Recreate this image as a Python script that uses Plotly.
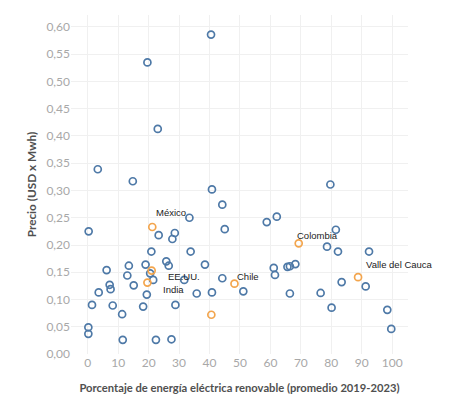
import plotly.graph_objects as go

# Blue series (other regions)
blue_x = [40.5, 19.6, 23.0, 3.3, 14.8, 40.8, 79.7, 44.2, 33.4, 0.3, 23.3, 28.6, 27.8, 45.0,
          20.9, 33.8, 25.8, 26.6, 19.0, 38.5, 13.5, 6.2, 20.5, 13.0, 21.5, 31.7, 7.2, 7.5,
          15.1, 44.2, 3.6, 19.4, 35.8, 40.8, 1.4, 8.2, 18.2, 28.8, 11.3, 0.2, 0.2, 11.5,
          22.4, 27.5, 58.8, 62.1, 81.5, 78.6, 82.2, 92.4, 51.1, 61.1, 61.5, 65.6, 66.4,
          68.2, 66.4, 76.5, 80.1, 83.4, 91.3, 98.4, 99.7]
blue_y = [0.586, 0.535, 0.413, 0.339, 0.317, 0.302, 0.311, 0.274, 0.250, 0.225, 0.218, 0.222,
          0.211, 0.229, 0.188, 0.188, 0.170, 0.162, 0.164, 0.164, 0.162, 0.154, 0.148, 0.144,
          0.136, 0.136, 0.127, 0.119, 0.126, 0.139, 0.113, 0.109, 0.111, 0.113, 0.090, 0.089,
          0.087, 0.090, 0.073, 0.049, 0.037, 0.026, 0.026, 0.027, 0.242, 0.252, 0.228, 0.197,
          0.188, 0.188, 0.115, 0.158, 0.145, 0.160, 0.161, 0.165, 0.111, 0.112, 0.085, 0.132,
          0.124, 0.081, 0.046]

# Highlighted series
orange_names = ["México", "EE.UU.", "India", "", "Chile", "Colombia", "Valle del Cauca"]
orange_x = [21.2, 21.0, 19.6, 40.6, 48.2, 69.3, 88.8]
orange_y = [0.233, 0.153, 0.131, 0.072, 0.129, 0.203, 0.141]

# Label positions (data coordinates)
label_names = ["México", "EE.UU.", "India", "Chile", "Colombia", "Valle del Cauca"]
label_x = [21.9, 25.6, 24.2, 48.3, 68.0, 90.7]
label_y = [0.259, 0.143, 0.118, 0.143, 0.217, 0.164]

x_ticks = list(range(0, 101, 10))
y_ticks = [round(i * 0.05, 2) for i in range(13)]

fig = go.Figure()
fig.add_trace(go.Scatter(
    x=blue_x, y=blue_y, mode="markers",
    marker=dict(symbol="circle-open", size=7, color="#4e79a7", line=dict(width=1.7)),
    cliponaxis=False, showlegend=False, hoverinfo="x+y"))
fig.add_trace(go.Scatter(
    x=orange_x, y=orange_y, mode="markers", text=orange_names,
    marker=dict(symbol="circle-open", size=7, color="#f3a54d", line=dict(width=1.7)),
    cliponaxis=False, showlegend=False))

for n, lx, ly in zip(label_names, label_x, label_y):
    fig.add_annotation(x=lx, y=ly, xref="x", yref="y", text=n, showarrow=False,
                       xanchor="left", yanchor="middle",
                       font=dict(family="Liberation Sans, Arial", size=9.5, color="#222"))

tick_font = dict(family="Lato, Noto Sans, sans-serif", size=12, color="#a8a8a8")
xtitle_font = dict(family="Lato, Noto Sans, sans-serif", size=11.2, color="#505050")
ytitle_font = dict(family="Lato, Noto Sans, sans-serif", size=11.8, color="#505050")

fig.update_layout(
    width=449, height=405,
    margin=dict(l=63, r=49, t=7, b=59, autoexpand=False),
    paper_bgcolor="white", plot_bgcolor="white",
    separators=",.",
    xaxis=dict(range=[-5.5, 105.2], tickvals=x_ticks, showgrid=True, gridcolor="#f0f0f0",
               gridwidth=1, zeroline=False, showline=False, ticks="", tickfont=tick_font,
               automargin=False,
               title=dict(text="<b>Porcentaje de energía eléctrica renovable (promedio 2019-2023)</b>",
                          font=xtitle_font, standoff=15)),
    yaxis=dict(range=[0, 0.622], tickvals=y_ticks, tickformat=".2f", showgrid=True,
               gridcolor="#f0f0f0", gridwidth=1, zeroline=False, showline=False, ticks="",
               tickfont=tick_font, automargin=False,
               title=dict(text="<b>Precio (USD x Mwh)</b>", font=ytitle_font, standoff=7)),
)

fig.write_html("out.html")
